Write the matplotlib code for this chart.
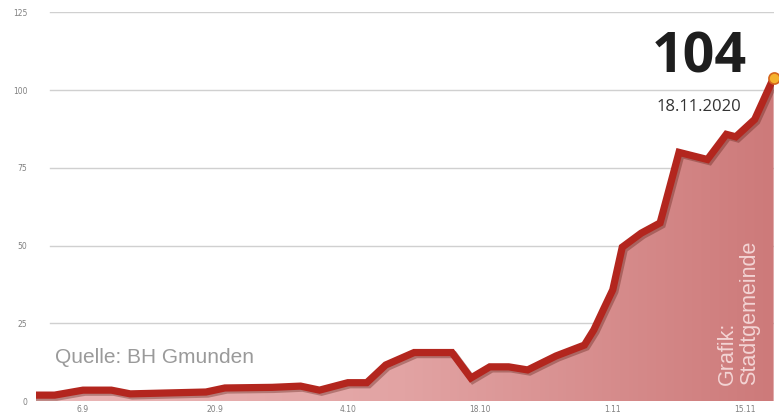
import numpy as np
import pandas as pd
import matplotlib
matplotlib.use("Agg")
import matplotlib.pyplot as plt
import matplotlib.dates as mdates
import matplotlib.patheffects as pe
from matplotlib.colors import LinearSegmentedColormap

# active cases, Gmunden
dates = ["2020-09-01", "2020-09-03", "2020-09-06", "2020-09-09", "2020-09-11",
         "2020-09-19", "2020-09-21", "2020-09-26", "2020-09-29", "2020-10-01",
         "2020-10-04", "2020-10-06", "2020-10-08", "2020-10-11", "2020-10-15",
         "2020-10-17", "2020-10-19", "2020-10-21", "2020-10-23", "2020-10-24",
         "2020-10-26", "2020-10-29", "2020-10-30", "2020-10-31", "2020-11-01",
         "2020-11-02", "2020-11-04", "2020-11-06", "2020-11-08", "2020-11-11",
         "2020-11-13", "2020-11-14", "2020-11-16", "2020-11-18"]
values = [1.9, 1.9, 3.5, 3.5, 2.3,
          2.9, 4.2, 4.4, 4.8, 3.5,
          5.9, 5.9, 11.6, 15.6, 15.6,
          7.4, 11, 11, 10, 11.5,
          14.5, 18, 22.9, 29.4, 35.8,
          49.5, 54, 57.3, 80, 77.7,
          85.8, 85, 90.6, 104]
yticks = [0, 25, 50, 75, 100, 125]
xtick_dates = ["2020-09-06", "2020-09-20", "2020-10-04", "2020-10-18", "2020-11-01", "2020-11-15"]
xtick_labels = ["6.9", "20.9", "4.10", "18.10", "1.11", "15.11"]

x = pd.to_datetime(dates)
xn = mdates.date2num(x)

fig = plt.figure(figsize=(7.79, 4.16), dpi=100)
ax = fig.add_axes([0.0458, 0.036, 0.9473, 0.934])
ax.set_xlim(xn[0], xn[-1])
ax.set_ylim(0, 125)

# gridlines (start a bit right of the plot edge)
for v in yticks[1:]:
    ax.axhline(v, xmin=0.02, xmax=1.0, color="#d0d0d0", lw=1.0, zorder=0)

# gradient fill under the curve
cmap = LinearSegmentedColormap.from_list("fill", ["#eab8b8", "#e2a3a3", "#cd7a7a"])
grad = np.linspace(0, 1, 256).reshape(1, -1)
img = ax.imshow(grad, cmap=cmap, aspect="auto", extent=[xn[0], xn[-1], 0, 125],
                origin="lower", zorder=1)
poly = ax.fill_between(xn, values, 0, color="none")
clip = poly.get_paths()[0]
img.set_clip_path(clip, transform=ax.transData)

ax.plot(xn, values, color="#b3261e", lw=5.2, solid_joinstyle="miter", zorder=3,
        path_effects=[pe.SimpleLineShadow(offset=(1.5, -1.5), shadow_color="#5a1a10", alpha=0.35),
                      pe.Normal()])
ax.plot(xn[-1], values[-1], "o", ms=8, mfc="#f5b22e", mec="#d5661e", mew=1.2, zorder=4, clip_on=False)

ax.set_yticks(yticks)
ax.set_yticklabels([str(v) for v in yticks])
ax.set_xticks(mdates.date2num(pd.to_datetime(xtick_dates)))
ax.set_xticklabels(xtick_labels)
ax.tick_params(axis="both", length=0, labelsize=5.5, labelcolor="#808080")
ax.tick_params(axis="y", pad=6)
ax.tick_params(axis="x", pad=3)
for s in ax.spines.values():
    s.set_visible(False)

ax.text(0.899, 0.883, "104", transform=ax.transAxes, ha="center", va="center",
        fontsize=40, fontweight="bold", family="Open Sans", color="#1e1e1e")
ax.text(0.899, 0.757, "18.11.2020", transform=ax.transAxes, ha="center", va="center",
        fontsize=12, family="Open Sans", color="#333333")
ax.text(0.026, 0.112, "Quelle: BH Gmunden", transform=ax.transAxes, ha="left", va="center",
        fontsize=15, family="Liberation Sans", color="#9a9a9a")
ax.text(0.952, 0.04, "Grafik:\nStadtgemeinde", transform=ax.transAxes, ha="center", va="bottom",
        rotation=90, fontsize=15.5, family="Liberation Sans", color="#f3d4d4",
        linespacing=1.1, multialignment="left", zorder=5)

fig.savefig("out.png", dpi=100)
